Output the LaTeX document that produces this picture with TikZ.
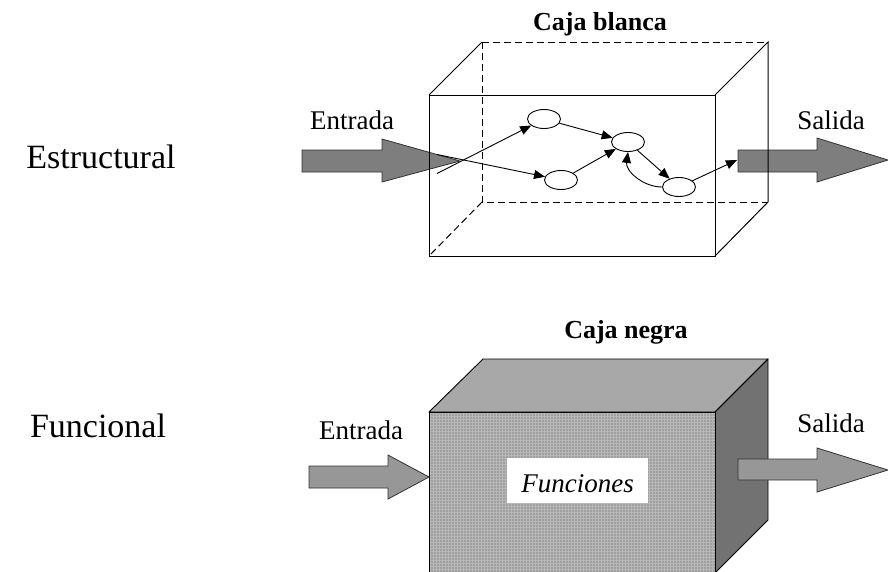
\documentclass[tikz,border=0pt]{standalone}
\usepackage{fontspec}
\setmainfont{Liberation Serif}
\usetikzlibrary{arrows.meta,shapes.geometric}
\definecolor{arrowdark}{HTML}{7E7E7E}
\definecolor{arrowlight}{HTML}{979797}
\definecolor{topface}{HTML}{A8A8A8}
\definecolor{frontface}{HTML}{A0A0A0}
\definecolor{frontgrid}{HTML}{B6B6B6}
\definecolor{sideface}{HTML}{727272}
\begin{document}
\begin{tikzpicture}[x=1pt,y=-1pt,
  edge/.style={line width=1pt},
  hidden/.style={line width=1pt,dash pattern=on 7pt off 4pt},
  blockarrow/.style={line width=0.8pt,draw=black!80},
  gnode/.style={ellipse,draw,line width=0.9pt,minimum width=33pt,minimum height=19pt,inner sep=0pt,fill=white},
  garrow/.style={line width=0.9pt,-{Triangle[length=11pt,width=9pt]}},
  biglabel/.style={anchor=base,font=\fontsize{34}{40}\selectfont,inner sep=0pt},
  iolabel/.style={anchor=base,font=\fontsize{27}{32}\selectfont,inner sep=0pt},
  titlelabel/.style={anchor=base,font=\fontsize{26}{30}\selectfont\bfseries,inner sep=0pt}]
\useasboundingbox (0,0) rectangle (888,571);
\clip (0,0) rectangle (888,571);

% ---------- labels ----------
\node[biglabel] (estr) at (101,168) {Estructural};
\node[biglabel] (func) at (98,437) {Funcional};
\node[titlelabel] (cblanca) at (600,30) {Caja blanca};
\node[titlelabel] (cnegra) at (626,338) {Caja negra};
\node[iolabel] (in1) at (352,129) {Entrada};
\node[iolabel] (out1) at (831,129) {Salida};
\node[iolabel] (in2) at (361,439) {Entrada};
\node[iolabel] (out2) at (831,432) {Salida};

% ---------- top: white box ----------
% block arrows
\draw[blockarrow,fill=arrowdark] (302,150) -- (382,150) -- (382,139) -- (460,161) -- (382,182) -- (382,172) -- (302,172) -- cycle;
\draw[blockarrow,fill=arrowdark] (738,150) -- (817,150) -- (817,138) -- (888,160) -- (817,182) -- (817,172) -- (738,172) -- cycle;
\coordinate (outtail) at (737,160);
% hidden edges
\draw[hidden] (482,42) -- (768,42);
\draw[hidden] (482,42) -- (482,202) -- (768,202);
\draw[hidden] (482,202) -- (429,256);
% visible edges
\draw[edge] (429,95) rectangle (715,256);
\draw[edge] (429,95) -- (482,42);
\draw[edge] (715,95) -- (768,42) -- (768,202) -- (715,256);

% graph
\node[gnode] (e1) at (544,119) {};
\node[gnode] (e2) at (561,180) {};
\node[gnode] (e3) at (628,142) {};
\node[gnode] (e4) at (679,187) {};
\coordinate (s1) at (437,173.5);
\coordinate (s2) at (437,154.5);
\draw[garrow] (s1) -- (e1);
\draw[garrow] (s2) -- (e2);
\draw[garrow] (e1) -- (e3);
\draw[garrow] (e2) -- (e3);
\draw[garrow] (e3) -- (e4);
\draw[garrow] (e4.west) to[out=180,in=262] (e3.south);
\draw[garrow] (e4) -- (outtail);

% ---------- bottom: black box ----------
\fill[topface] (429,412) -- (483,359) -- (768,359) -- (715,412) -- cycle;
\fill[sideface] (715,412) -- (768,359) -- (768,520) -- (715,573) -- cycle;
\fill[frontface] (429,412) rectangle (715,573);
\begin{scope}
  \clip (429,412) rectangle (715,573);
  \foreach \gx in {430,433,...,715} \draw[frontgrid,line width=0.6pt] (\gx,412) -- (\gx,573);
  \foreach \gy in {413,416,...,573} \draw[frontgrid,line width=0.4pt] (429,\gy) -- (715,\gy);
\end{scope}
\draw[line width=0.9pt,line join=round] (429,412) -- (483,359) -- (768,359) -- (715,412) -- cycle;
\draw[line width=0.9pt,line join=round] (715,412) -- (768,359) -- (768,520) -- (715,573);
\draw[line width=0.9pt] (429,573) -- (429,412) -- (715,412) -- (715,573);
\fill[white] (507,458) rectangle (648,503);
\node[anchor=base,font=\fontsize{27}{32}\selectfont\itshape,inner sep=0pt] (funciones) at (577.5,492) {Funciones};

\draw[blockarrow,fill=arrowlight] (309,466) -- (388,466) -- (388,455) -- (429,477) -- (388,499) -- (388,488) -- (309,488) -- cycle;
\draw[blockarrow,fill=arrowlight] (738,459) -- (817,459) -- (817,448) -- (888,470) -- (817,492) -- (817,480) -- (738,480) -- cycle;
\end{tikzpicture}
\end{document}
